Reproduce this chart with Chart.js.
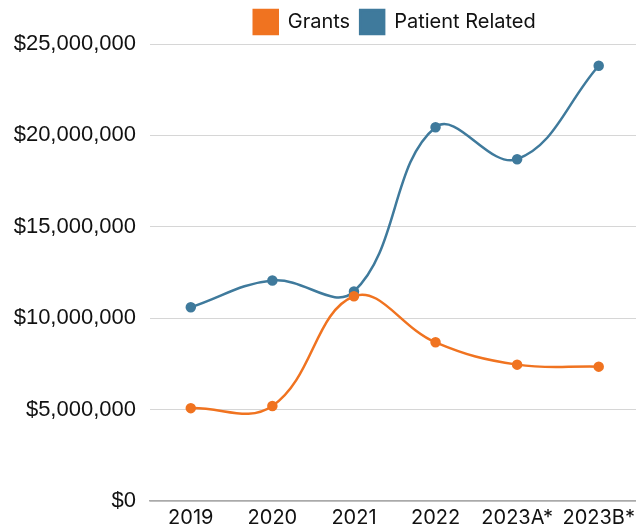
<!DOCTYPE html>
<html><head><meta charset="utf-8">
<script src="https://cdn.jsdelivr.net/npm/chart.js@4"></script>
<style>html,body{margin:0;padding:0;background:#fff;overflow:hidden}#wrap{width:646px;height:529px}</style>
</head><body><div id="wrap"><canvas id="c"></canvas></div>
<script>
const categories = ["2019","2020","2021","2022","2023A*","2023B*"];
const grants = [5080000, 5200000, 11200000, 8680000, 7460000, 7350000];
const patientRelated = [10600000, 12060000, 11460000, 20450000, 18700000, 23810000];
const yTicks = [0, 5000000, 10000000, 15000000, 20000000, 25000000];

new Chart(document.getElementById('c'), {
  type: 'line',
  data: {
    labels: categories,
    datasets: [
      {label: 'Grants', data: grants, borderColor: '#F07320', backgroundColor: '#F07320', pointBackgroundColor: '#F07320', pointBorderColor: '#F07320', borderWidth: 2.5, pointRadius: 4, tension: 0.4},
      {label: 'Patient Related', data: patientRelated, borderColor: '#3F7A9C', backgroundColor: '#3F7A9C', pointBackgroundColor: '#3F7A9C', pointBorderColor: '#3F7A9C', borderWidth: 2.5, pointRadius: 4, tension: 0.4}
    ]
  },
  options: {
    responsive: true, maintainAspectRatio: false, animation: false,
    layout: {padding: {left: 7, right: 0, top: 0, bottom: 0}},
    plugins: {
      legend: {position: 'top', fullSize: false, labels: {boxWidth: 24, boxHeight: 24, padding: 10, color: '#111', font: {family: 'Inter', size: 20}}},
      tooltip: {enabled: false}
    },
    scales: {
      x: {offset: true, grid: {display: false, drawTicks: false}, border: {color: '#aaa', width: 1.5},
          afterFit: a => { a.height = 28; },
          ticks: {color: '#111', padding: 5, maxRotation: 0, font: {family: 'Inter', size: 20}}},
      y: {min: 0, max: 25000000, afterBuildTicks: a => { a.ticks = yTicks.map(v => ({value: v})); },
          afterFit: a => { a.width = 143; },
          grid: {color: '#d6d6d6', lineWidth: 1, drawTicks: false}, border: {display: false},
          ticks: {color: '#111', padding: 14, font: {family: 'Liberation Sans', size: 22},
                  callback: v => '$' + Number(v).toLocaleString('en-US')}}
    }
  }
});
</script></body></html>
